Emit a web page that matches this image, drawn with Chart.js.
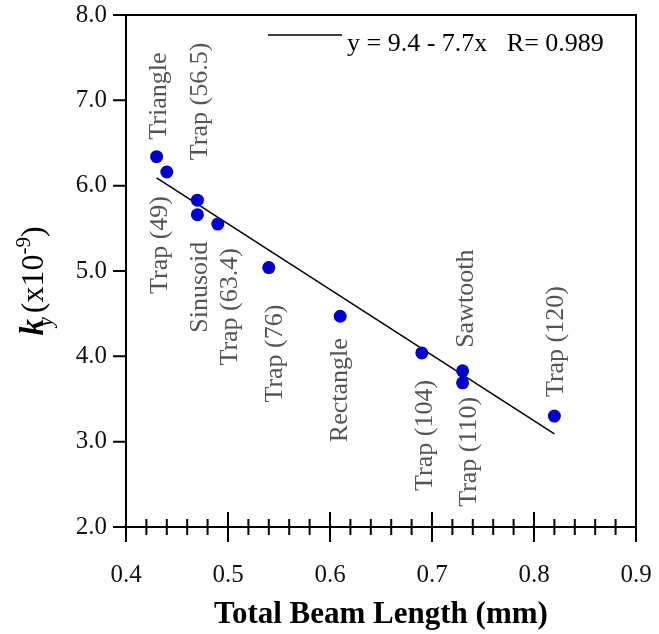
<!DOCTYPE html>
<html>
<head>
<meta charset="utf-8">
<script src="https://cdn.jsdelivr.net/npm/chart.js@4.4.1/dist/chart.umd.min.js"></script>
<style>
  html, body { margin: 0; padding: 0; background: #fff; }
  #wrap { width: 659px; height: 634px; position: relative; }
</style>
</head>
<body>
<div id="wrap"><canvas id="kyChart"></canvas></div>
<script>
// Data
const beamLength = [0.43, 0.44, 0.47, 0.47, 0.49, 0.54, 0.61, 0.69, 0.73, 0.73, 0.82];
const kyValues = [6.34, 6.16, 5.83, 5.66, 5.55, 5.04, 4.47, 4.04, 3.83, 3.69, 3.30];
const pointNames = ['Triangle', 'Trap (49)', 'Trap (56.5)', 'Sinusoid', 'Trap (63.4)', 'Trap (76)',
  'Rectangle', 'Trap (104)', 'Sawtooth', 'Trap (110)', 'Trap (120)'];

// Linear fit y = 9.4 - 7.7x, end points
const fitX = [0.43, 0.82];
const fitY = [6.09, 3.09];
const fitLabel = 'y = 9.4 - 7.7x   R= 0.989';

// Tick labels
const xTickLabels = ['0.4', '0.5', '0.6', '0.7', '0.8', '0.9'];
const yTickLabels = ['2.0', '3.0', '4.0', '5.0', '6.0', '7.0', '8.0'];

// Where each point name sits (layout only): side, gap from point, sideways nudge
const namePlacement = [
  { side: 'up', gap: 17, dx: 3 },
  { side: 'down', gap: 24, dx: -7 },
  { side: 'up', gap: 40, dx: 3 },
  { side: 'down', gap: 27, dx: 3 },
  { side: 'down', gap: 24, dx: 12 },
  { side: 'down', gap: 37, dx: 6 },
  { side: 'down', gap: 22, dx: 0 },
  { side: 'down', gap: 27, dx: 3 },
  { side: 'up', gap: 23, dx: 4 },
  { side: 'down', gap: 14, dx: 7 },
  { side: 'up', gap: 19, dx: 2 }
];

const SERIF = '"Liberation Serif", "Times New Roman", serif';

function isTenth(v) {
  return Math.abs(v * 10 - Math.round(v * 10)) < 1e-6;
}

// Box + ticks crossing the bottom axis
const axisFrame = {
  id: 'axisFrame',
  afterDatasetsDraw(chart) {
    const { ctx, chartArea: a, scales: { x, y } } = chart;
    ctx.save();
    ctx.strokeStyle = '#000';
    ctx.lineWidth = 2;
    ctx.strokeRect(a.left, a.top, a.right - a.left, a.bottom - a.top);
    ctx.beginPath();
    x.ticks.forEach(t => {
      const px = x.getPixelForValue(t.value);
      const len = isTenth(t.value) ? 15 : 8;
      ctx.moveTo(px, a.bottom - len);
      ctx.lineTo(px, a.bottom + len);
    });
    y.ticks.forEach(t => {
      const py = y.getPixelForValue(t.value);
      ctx.moveTo(a.left - 13, py);
      ctx.lineTo(a.left, py);
    });
    ctx.stroke();
    ctx.restore();
  }
};

// Rotated names next to the points
const pointNameLabels = {
  id: 'pointNameLabels',
  afterDatasetsDraw(chart) {
    const { ctx, scales: { x, y } } = chart;
    ctx.save();
    ctx.fillStyle = '#555555';
    ctx.font = '26px ' + SERIF;
    ctx.textBaseline = 'middle';
    pointNames.forEach((name, i) => {
      const p = namePlacement[i];
      const px = x.getPixelForValue(beamLength[i]) + p.dx;
      const py = y.getPixelForValue(kyValues[i]);
      ctx.save();
      ctx.translate(px, p.side === 'up' ? py - p.gap : py + p.gap);
      ctx.rotate(-Math.PI / 2);
      ctx.textAlign = p.side === 'up' ? 'left' : 'right';
      ctx.fillText(name, 0, 0);
      ctx.restore();
    });
    ctx.restore();
  }
};

// Legend line + equation, and the y axis title with sub/superscripts
const extras = {
  id: 'extras',
  afterDraw(chart) {
    const { ctx } = chart;
    ctx.save();
    // legend
    ctx.strokeStyle = '#000';
    ctx.lineWidth = 1.5;
    ctx.beginPath();
    ctx.moveTo(268, 35);
    ctx.lineTo(342, 35);
    ctx.stroke();
    ctx.fillStyle = '#000';
    ctx.font = '26px ' + SERIF;
    ctx.textBaseline = 'alphabetic';
    ctx.textAlign = 'left';
    ctx.fillText(fitLabel, 347, 51);

    // y title
    const fK = 'italic bold 33px ' + SERIF;
    const fSub = 'italic 21px ' + SERIF;
    const fMain = '32px ' + SERIF;
    const fSup = '21px ' + SERIF;
    ctx.font = fK; const wK = ctx.measureText('k').width;
    ctx.font = fSub; const wY = ctx.measureText('y').width;
    ctx.font = fMain; const wOpen = ctx.measureText('(x10').width; const wClose = ctx.measureText(')').width;
    ctx.font = fSup; const wSup = ctx.measureText('-9').width;
    const subStart = wK * 0.55;
    const openStart = Math.max(wK, subStart + wY) + 4;
    const supStart = openStart + wOpen;
    const closeStart = supStart + wSup;
    const total = closeStart + wClose;
    ctx.translate(43, 281);
    ctx.rotate(-Math.PI / 2);
    const u0 = -total / 2;
    ctx.font = fK; ctx.fillText('k', u0, 0);
    ctx.font = fSub; ctx.fillText('y', u0 + subStart, 9);
    ctx.font = fMain; ctx.fillText('(x10', u0 + openStart, 0);
    ctx.font = fSup; ctx.fillText('-9', u0 + supStart, -13);
    ctx.font = fMain; ctx.fillText(')', u0 + closeStart, 0);
    ctx.restore();
  }
};

// invisible tick marks only used to push the labels away from the axes
const hiddenGrid = len => ({
  display: true,
  drawOnChartArea: false,
  drawTicks: true,
  tickLength: len,
  color: 'rgba(0,0,0,0)'
});

new Chart(document.getElementById('kyChart'), {
  type: 'scatter',
  data: {
    datasets: [
      {
        label: 'ky',
        data: beamLength.map((v, i) => ({ x: v, y: kyValues[i] })),
        backgroundColor: '#0000cc',
        borderColor: '#0000cc',
        pointRadius: 6.5,
        pointHoverRadius: 6.5,
        borderWidth: 0
      },
      {
        label: fitLabel,
        data: fitX.map((v, i) => ({ x: v, y: fitY[i] })),
        showLine: true,
        borderColor: '#000',
        borderWidth: 1.5,
        pointRadius: 0,
        fill: false
      }
    ]
  },
  options: {
    responsive: true,
    maintainAspectRatio: false,
    animation: false,
    layout: { padding: { left: 0, right: 23, top: 15, bottom: 0 } },
    plugins: { legend: { display: false }, tooltip: { enabled: false } },
    scales: {
      x: {
        type: 'linear',
        min: 0.4,
        max: 0.9,
        grid: hiddenGrid(33),
        border: { display: false },
        ticks: {
          stepSize: 0.02,
          autoSkip: false,
          maxRotation: 0,
          minRotation: 0,
          padding: 0,
          color: '#111',
          font: { family: SERIF, size: 25 },
          callback: v => (isTenth(v) && xTickLabels.includes(v.toFixed(1))) ? v.toFixed(1) : ''
        },
        title: {
          display: true,
          text: 'Total Beam Length (mm)',
          color: '#000',
          font: { family: SERIF, size: 31, weight: 'bold' },
          padding: 0
        },
        afterFit: s => { s.height = 107; }
      },
      y: {
        type: 'linear',
        min: 2,
        max: 8,
        grid: hiddenGrid(19),
        border: { display: false },
        ticks: {
          stepSize: 1,
          padding: 0,
          color: '#111',
          font: { family: SERIF, size: 25 },
          callback: v => yTickLabels.includes(v.toFixed(1)) ? v.toFixed(1) : ''
        },
        afterFit: s => { s.width = 126; }
      }
    }
  },
  plugins: [axisFrame, pointNameLabels, extras]
});
</script>
</body>
</html>
